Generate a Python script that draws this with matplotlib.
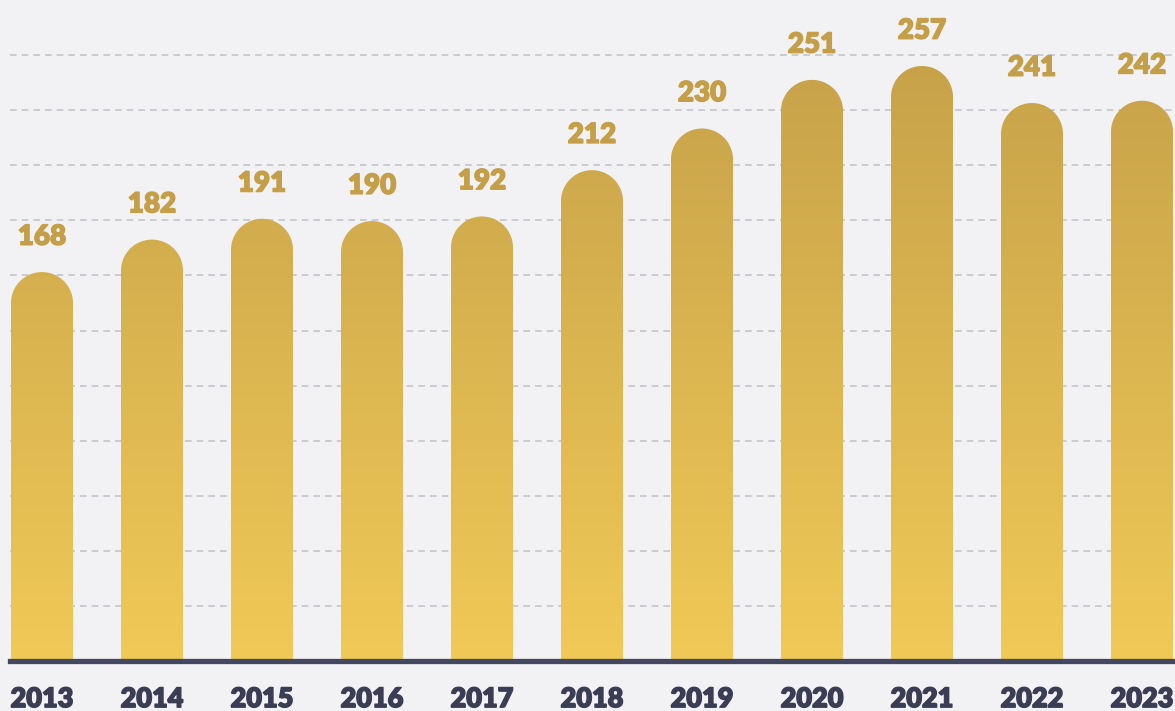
import numpy as np
import matplotlib
matplotlib.use("Agg")
import matplotlib.pyplot as plt
import matplotlib.patheffects as pe
from matplotlib.path import Path
from matplotlib.patches import PathPatch
from matplotlib.colors import LinearSegmentedColormap

years = ["2013", "2014", "2015", "2016", "2017", "2018", "2019", "2020", "2021", "2022", "2023"]
values = [168, 182, 191, 190, 192, 212, 230, 251, 257, 241, 242]

W, H = 1175, 711
fig = plt.figure(figsize=(W / 100, H / 100), dpi=100)
bg = "#f2f2f5"
fig.patch.set_facecolor(bg)

ax_left_px, ax_bottom_px, ax_w_px, ax_h_px = 10, 50, 1165, 661
ax = fig.add_axes([ax_left_px / W, ax_bottom_px / H, ax_w_px / W, ax_h_px / H])
ax.set_facecolor(bg)

spacing_px = 110
xmin = -32 / spacing_px
xmax = xmin + ax_w_px / spacing_px
ymax = 285.5
ax.set_xlim(xmin, xmax)
ax.set_ylim(0, ymax)

px_x = ax_w_px / (xmax - xmin)
px_y = ax_h_px / ymax

# grid lines
for k in range(1, 12):
    ax.axhline(ymax * k / 12, color="#c4c4cb", lw=1.2, ls=(0, (4, 3)), zorder=1)

cmap = LinearSegmentedColormap.from_list("gold", ["#c39e48", "#f0c957"])
grad = np.linspace(0, 1, 256).reshape(-1, 1)

bar_w = 62 / px_x
rx = bar_w / 2
ry = rx * px_x / px_y
theta = np.linspace(np.pi, 0, 60)
val_fx = [pe.withStroke(linewidth=1.0, foreground="#c49f48")]
yr_fx = [pe.withStroke(linewidth=1.0, foreground="#3b3d55")]
for i, v in enumerate(values):
    cx = i
    verts = [(cx - rx, 0), (cx - rx, v - ry)]
    verts += [(cx + rx * np.cos(t), v - ry + ry * np.sin(t)) for t in theta]
    verts += [(cx + rx, 0), (cx - rx, 0)]
    codes = [Path.MOVETO] + [Path.LINETO] * (len(verts) - 2) + [Path.CLOSEPOLY]
    patch = PathPatch(Path(verts, codes), facecolor="none", edgecolor="none")
    ax.add_patch(patch)
    im = ax.imshow(grad, extent=[xmin, xmax, 0, ymax], aspect="auto", cmap=cmap,
                   origin="upper", zorder=2, interpolation="bicubic")
    im.set_clip_path(patch)
    ax.annotate(str(v), (cx, v), xytext=(0, 16), textcoords="offset points",
                ha="center", va="bottom", fontsize=20, fontweight="heavy",
                family="Lato", color="#c49f48", zorder=4, path_effects=val_fx)
    ax.annotate(years[i], (cx, 0), xytext=(0, -27.5), textcoords="offset points",
                ha="center", va="center", fontsize=19.5, fontweight="heavy",
                family="Lato", color="#3b3d55", annotation_clip=False, zorder=4,
                path_effects=yr_fx)

ax.set_xlim(xmin, xmax)
ax.set_ylim(0, ymax)
ax.axhline(0, color="#444760", lw=3.8, zorder=5, clip_on=False)

for s in ax.spines.values():
    s.set_visible(False)
ax.set_xticks([])
ax.set_yticks([])

fig.savefig("out.png", dpi=100, facecolor=bg)
